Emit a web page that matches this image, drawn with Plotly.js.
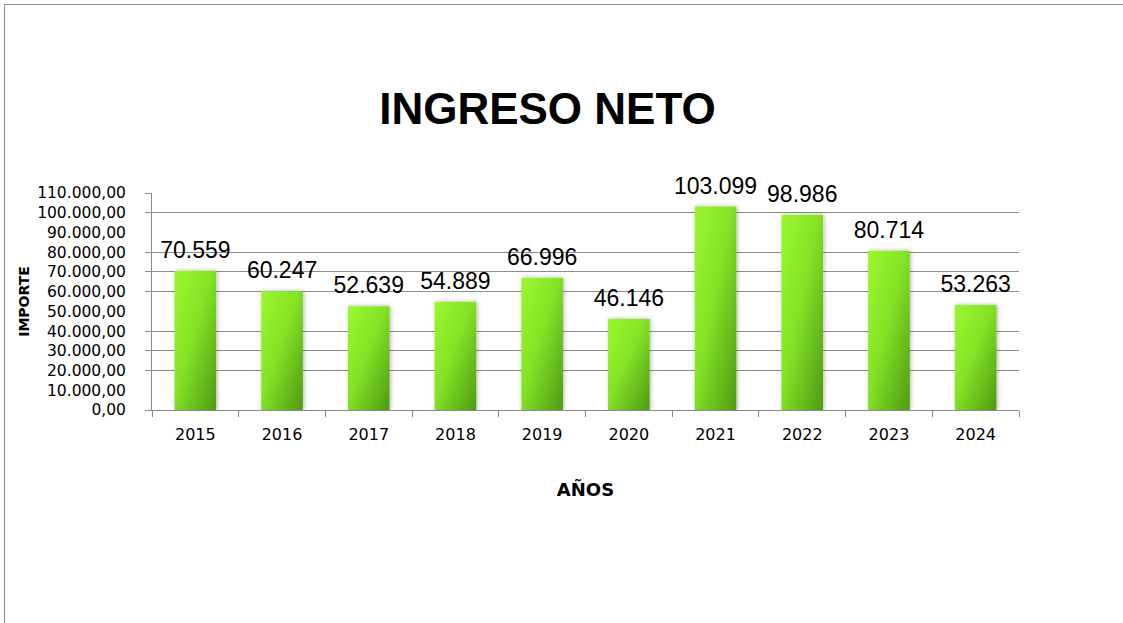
<!DOCTYPE html>
<html>
<head>
<meta charset="utf-8">
<script src="https://cdn.plot.ly/plotly-3.0.1.min.js"></script>
<style>
  html, body { margin: 0; padding: 0; background: #fff; overflow: hidden; width: 1123px; height: 623px; }
  #lineTop { position: absolute; left: 4px; top: 4px; width: 1119px; height: 1px; background: #8c8c8c; }
  #lineLeft { position: absolute; left: 4px; top: 4px; width: 1px; height: 619px; background: #8c8c8c; }
  #chart { position: absolute; left: 0; top: 0; width: 1123px; height: 623px; overflow: hidden; }
</style>
</head>
<body>
<div id="lineTop"></div>
<div id="lineLeft"></div>
<div id="chart"></div>
<script>
// ---- data ----
const years = ["2015", "2016", "2017", "2018", "2019", "2020", "2021", "2022", "2023", "2024"];
const ingresoNeto = [70559, 60247, 52639, 54889, 66996, 46146, 103099, 98986, 80714, 53263];
const yTickVals = [0, 10000, 20000, 30000, 40000, 50000, 60000, 70000, 80000, 90000, 100000, 110000];
const yGridVals = [0, 20000, 30000, 40000, 60000, 70000, 80000, 100000, 110000];

const trace = {
  type: "bar",
  x: years,
  y: ingresoNeto,
  marker: { color: "#7ddc22" },
  texttemplate: "%{y:,.0f}",
  textposition: "outside",
  constraintext: "none",
  cliponaxis: false,
  textfont: { family: "Liberation Sans, Arial, sans-serif", size: 23, color: "#000" },
  hoverinfo: "skip"
};
const gridTrace = { type: "scatter", x: [], y: [], yaxis: "y2", hoverinfo: "skip", showlegend: false };

const layout = {
  width: 1123, height: 623,
  margin: { l: 152, r: 104, t: 193, b: 213, pad: 0 },
  paper_bgcolor: "rgba(0,0,0,0)",
  plot_bgcolor: "rgba(0,0,0,0)",
  separators: ",.",
  showlegend: false,
  bargap: 0.52,
  title: {
    text: "<b>INGRESO NETO</b>",
    font: { family: "Liberation Sans, Arial, sans-serif", size: 44, color: "#000" },
    xref: "container", yref: "container",
    x: 0.4875, xanchor: "center",
    y: 0.825, yanchor: "middle"
  },
  xaxis: {
    type: "category",
    showgrid: false,
    showline: true, linecolor: "#8c8c8c", linewidth: 1,
    ticks: "outside", tickson: "boundaries", ticklen: 6, tickcolor: "#8c8c8c",
    tickfont: { family: "DejaVu Sans, sans-serif", size: 16, color: "#000" },
    ticklabelstandoff: 10,
    title: { text: "<b>AÑOS</b>", font: { family: "DejaVu Sans, sans-serif", size: 18, color: "#000" }, standoff: 40 }
  },
  yaxis: {
    range: [0, 110000],
    tickvals: yTickVals,
    tickformat: ",.2f",
    showgrid: false, zeroline: false,
    showline: true, linecolor: "#8c8c8c", linewidth: 1,
    ticks: "",
    ticklabelstandoff: 22,
    tickfont: { family: "DejaVu Sans, sans-serif", size: 15.5, color: "#000" },
    title: { text: "<b>IMPORTE</b>", font: { family: "DejaVu Sans, sans-serif", size: 14, color: "#000" }, standoff: 4 }
  },
  yaxis2: {
    overlaying: "y", side: "left",
    range: [0, 110000],
    tickvals: yGridVals,
    showticklabels: false,
    showgrid: true, gridcolor: "#8c8c8c", gridwidth: 1,
    zeroline: false, showline: false,
    ticks: "outside", ticklen: 6, tickcolor: "#8c8c8c"
  },
  hovermode: false
};

Plotly.newPlot("chart", [gridTrace, trace], layout, { displayModeBar: false, staticPlot: true }).then(function (gd) {
  const NS = "http://www.w3.org/2000/svg";
  const svg = gd.querySelector("svg.main-svg");
  let defs = svg.querySelector("defs");
  if (!defs) { defs = document.createElementNS(NS, "defs"); svg.insertBefore(defs, svg.firstChild); }
  const grad = document.createElementNS(NS, "linearGradient");
  grad.setAttribute("id", "barGrad");
  grad.setAttribute("x1", "0"); grad.setAttribute("y1", "0");
  grad.setAttribute("x2", "1"); grad.setAttribute("y2", "1");
  [["0", "#9cf72f"], ["0.45", "#84e326"], ["1", "#4f9a12"]].forEach(function (s) {
    const st = document.createElementNS(NS, "stop");
    st.setAttribute("offset", s[0]); st.setAttribute("stop-color", s[1]);
    grad.appendChild(st);
  });
  defs.appendChild(grad);
  const filt = document.createElementNS(NS, "filter");
  filt.setAttribute("id", "barShadow");
  filt.setAttribute("x", "-30%"); filt.setAttribute("y", "-10%");
  filt.setAttribute("width", "160%"); filt.setAttribute("height", "120%");
  const ds = document.createElementNS(NS, "feDropShadow");
  ds.setAttribute("dx", "1"); ds.setAttribute("dy", "0");
  ds.setAttribute("stdDeviation", "2"); ds.setAttribute("flood-color", "#000");
  ds.setAttribute("flood-opacity", "0.3");
  filt.appendChild(ds);
  defs.appendChild(filt);
  gd.querySelectorAll(".bars .point path").forEach(function (p) {
    p.style.fill = "url(#barGrad)";
    p.setAttribute("filter", "url(#barShadow)");
  });
  gd.querySelectorAll(".bars .point text").forEach(function (t) {
    const tr = t.getAttribute("transform") || "";
    t.setAttribute("transform", "translate(0,-5) " + tr);
  });
});
</script>
</body>
</html>
